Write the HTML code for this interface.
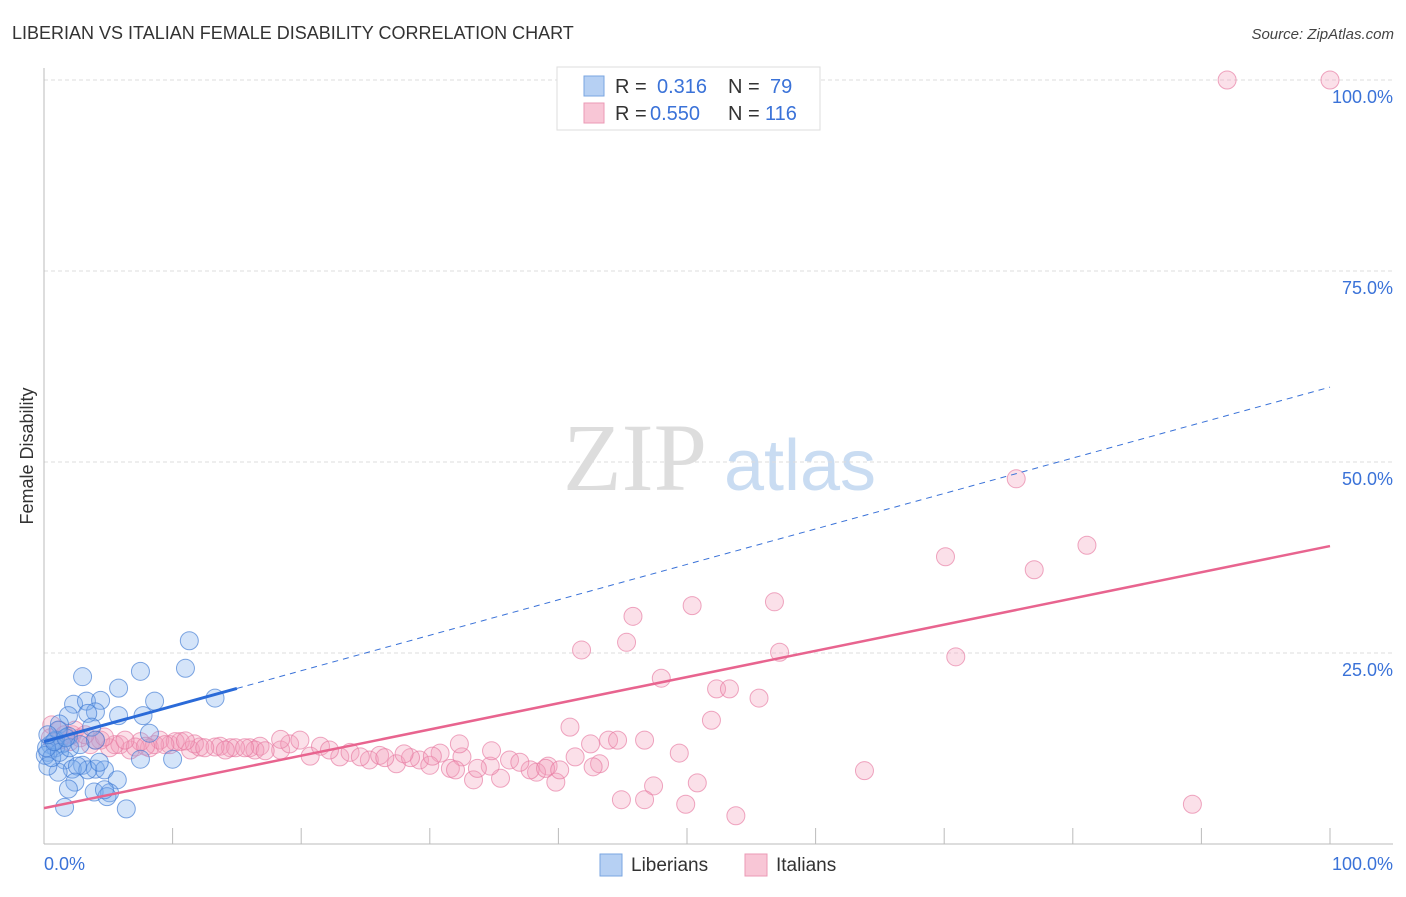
<!DOCTYPE html>
<html><head><meta charset="utf-8"><style>
body{margin:0;background:#fff;font-family:"Liberation Sans",sans-serif}
</style></head><body>
<svg id="chart" width="1406" height="892" xmlns="http://www.w3.org/2000/svg" font-family="Liberation Sans, sans-serif">
<text x="12" y="39" font-size="18" fill="#333">LIBERIAN VS ITALIAN FEMALE DISABILITY CORRELATION CHART</text>
<text x="1394" y="39" font-size="15" fill="#444" text-anchor="end" font-style="italic">Source: ZipAtlas.com</text>
<text transform="translate(33,456) rotate(-90)" font-size="18" fill="#333" text-anchor="middle">Female Disability</text>
<g>
<text x="635" y="490" font-size="96" fill="#ddd" text-anchor="middle" font-family="Liberation Serif, serif">ZIP</text>
<text x="800" y="490" font-size="72" fill="#c9dcf2" text-anchor="middle">atlas</text>
</g>
<g id="grid"></g><g id="axes"></g><g id="pts"></g><g id="lines"></g>
<g>
<rect x="557" y="67" width="263" height="63" fill="#fff" stroke="#ddd"/>
<rect x="584" y="76" width="20" height="20" fill="#b6d0f3" stroke="#7aa6e0"/>
<text x="615" y="93" font-size="20" fill="#333">R =</text>
<text x="657" y="93" font-size="20" fill="#3a72d8">0.316</text>
<text x="728" y="93" font-size="20" fill="#333">N =</text>
<text x="770" y="93" font-size="20" fill="#3a72d8">79</text>
<rect x="584" y="103" width="20" height="20" fill="#f8c6d6" stroke="#eb9ab5"/>
<text x="615" y="120" font-size="20" fill="#333">R =</text>
<text x="650" y="120" font-size="20" fill="#3a72d8">0.550</text>
<text x="728" y="120" font-size="20" fill="#333">N =</text>
<text x="765" y="120" font-size="20" fill="#3a72d8">116</text>
</g>
<g><rect x="600" y="854" width="22" height="22" fill="#b6d0f3" stroke="#7aa6e0"/><text x="631" y="871" font-size="19" fill="#333">Liberians</text></g>
<g><rect x="745" y="854" width="22" height="22" fill="#f8c6d6" stroke="#eb9ab5"/><text x="776" y="871" font-size="19" fill="#333">Italians</text></g>
</svg>
<script>
const yTicks=[25,50,75,100];
const xTickVals=[0,10,20,30,40,50,60,70,80,90,100];
const blueX=[11.3,11.0,7.5,3.0,5.8,13.3,8.6,2.3,3.3,4.4,4.0,5.8,7.7,1.9,3.4,1.2,3.7,8.2,1.9,0.9,4.0,1.4,0.5,0.9,0.3,0.1,1.6,7.5,10.0,3.0,4.0,2.2,1.1,4.7,3.4,2.6,0.3,5.7,2.4,1.9,3.9,5.1,4.9,4.7,1.6,6.4,4.3,0.6,1.2,2.0,2.8,0.2,0.8,1.7,1.1,0.3];
const blueY=[26.6,23.0,22.6,21.9,20.4,19.1,18.7,18.3,18.7,18.8,17.3,16.8,16.8,16.8,17.1,15.7,15.3,14.5,14.1,13.6,13.6,13.1,13.0,12.6,12.0,11.6,11.0,11.1,11.1,10.3,9.8,9.8,9.4,9.7,9.7,10.2,10.2,8.4,8.1,7.2,6.8,6.7,6.2,7.1,4.8,4.6,10.7,11.3,12.0,12.6,13.0,12.6,13.4,13.9,14.9,14.3];
const pinkX=[92.0,100,75.6,70.1,81.1,77.0,45.8,50.4,56.8,45.3,41.8,57.2,70.9,48.0,52.3,53.3,55.6,51.9,40.9,46.7,49.4,63.8,50.8,47.4,44.9,46.7,49.9,53.8,89.3,43.2,42.7,43.9,44.6,42.5,41.3,39.2,38.3,37.8,39.8,35.5,33.4,34.7,33.7,32.5,30.8,29.2,27.4,25.3,23.0,20.7,18.4,16.0,13.7,11.4,9.8,8.2,6.7,5.1,3.6,2.0,1.2,0.5,0.6,1.2,2.2,2.8,4.4,5.9,7.5,9.0,10.6,12.1,14.5,16.8,19.1,21.5,23.8,26.1,28.5,30.0,31.6,32.0,36.2,37.0,39.0,40.1,34.8,30.2,32.3,28.0,26.5,24.6,22.2,19.9,18.4,16.4,14.9,13.3,11.7,10.2,8.6,7.1,5.5,4.0,2.4,1.6,3.2,4.7,6.3,7.9,9.4,11.0,12.5,14.1,15.6,17.2];
const pinkY=[100,100,47.8,37.6,39.1,35.9,29.8,31.2,31.7,26.4,25.4,25.1,24.5,21.7,20.3,20.3,19.1,16.2,15.3,13.6,11.9,9.6,8.0,7.6,5.8,5.8,5.2,3.7,5.2,10.5,10.1,13.6,13.6,13.1,11.4,10.2,9.4,9.7,8.1,8.6,8.4,10.2,9.9,11.4,11.9,11.0,10.5,11.0,11.4,11.5,12.3,12.6,12.8,12.3,13.0,12.6,12.3,12.6,13.0,13.4,13.6,13.9,15.6,14.9,14.3,13.9,13.6,13.0,13.4,13.6,13.4,12.7,12.6,12.8,13.1,12.8,12.0,11.6,11.3,10.3,9.9,9.7,11.0,10.7,9.9,9.7,12.2,11.5,13.1,11.8,11.3,11.4,12.3,13.6,13.7,12.3,12.6,12.7,13.1,13.4,13.0,12.7,13.0,13.6,14.9,14.3,14.3,14.0,13.6,12.8,13.0,13.5,12.6,12.3,12.6,12.2];
const blueTrend=[13.4,59.8,15];
const pinkTrend=[4.7,39.0];
const NS='http://www.w3.org/2000/svg';
const xs=v=>44+v*12.86, ys=v=>844-v*7.64;
function mk(t,a,p){const e=document.createElementNS(NS,t);for(const k in a)e.setAttribute(k,a[k]);p.appendChild(e);return e;}
const G=document.getElementById('grid'),A=document.getElementById('axes'),P=document.getElementById('pts'),L=document.getElementById('lines');
yTicks.forEach(t=>{
 const l=mk('line',{x1:44,x2:1393,y1:ys(t),y2:ys(t),stroke:'#ddd','stroke-dasharray':'4,3'},G);
 
 
 const tx=mk('text',{x:1393,y:ys(t)+23,'font-size':18,fill:'#3a72d8','text-anchor':'end'},A);
 tx.textContent=t.toFixed(1)+'%';
 
 
});
const ax=mk('line',{x1:44,x2:44,y1:68,y2:844,stroke:'#bbb'},A);


const bx=mk('line',{x1:44,x2:1393,y1:844,y2:844,stroke:'#bbb'},A);


xTickVals.forEach(t=>{
 const l=mk('line',{x1:xs(t),x2:xs(t),y1:828,y2:844,stroke:'#bbb'},A);
 
 
});
const x0=mk('text',{x:44,y:870,'font-size':18,fill:'#3a72d8'},A);x0.textContent='0.0%';


const x1=mk('text',{x:1393,y:870,'font-size':18,fill:'#3a72d8','text-anchor':'end'},A);x1.textContent='100.0%';


pinkX.forEach((v,i)=>{
 const c=mk('circle',{cx:xs(v),cy:ys(pinkY[i]),r:9,fill:'rgba(244,160,188,0.32)',stroke:'rgba(230,120,160,0.65)','stroke-width':1},P);
 
 
});
blueX.forEach((v,i)=>{
 const c=mk('circle',{cx:xs(v),cy:ys(blueY[i]),r:9,fill:'rgba(120,170,235,0.32)',stroke:'rgba(60,120,210,0.65)','stroke-width':1},P);
 
 
});
const by=v=>blueTrend[0]+(blueTrend[1]-blueTrend[0])*v/100;
const bd=mk('line',{x1:xs(blueTrend[2]),y1:ys(by(blueTrend[2])),x2:xs(100),y2:ys(by(100)),stroke:'#3a72d8','stroke-width':1,'stroke-dasharray':'6,5'},L);


const bs=mk('line',{x1:xs(0),y1:ys(by(0)),x2:xs(blueTrend[2]),y2:ys(by(blueTrend[2])),stroke:'#2a6ad8','stroke-width':3},L);


const ps=mk('line',{x1:xs(0),y1:ys(pinkTrend[0]),x2:xs(100),y2:ys(pinkTrend[1]),stroke:'#e8648f','stroke-width':2.5},L);


</script>
</body></html>
